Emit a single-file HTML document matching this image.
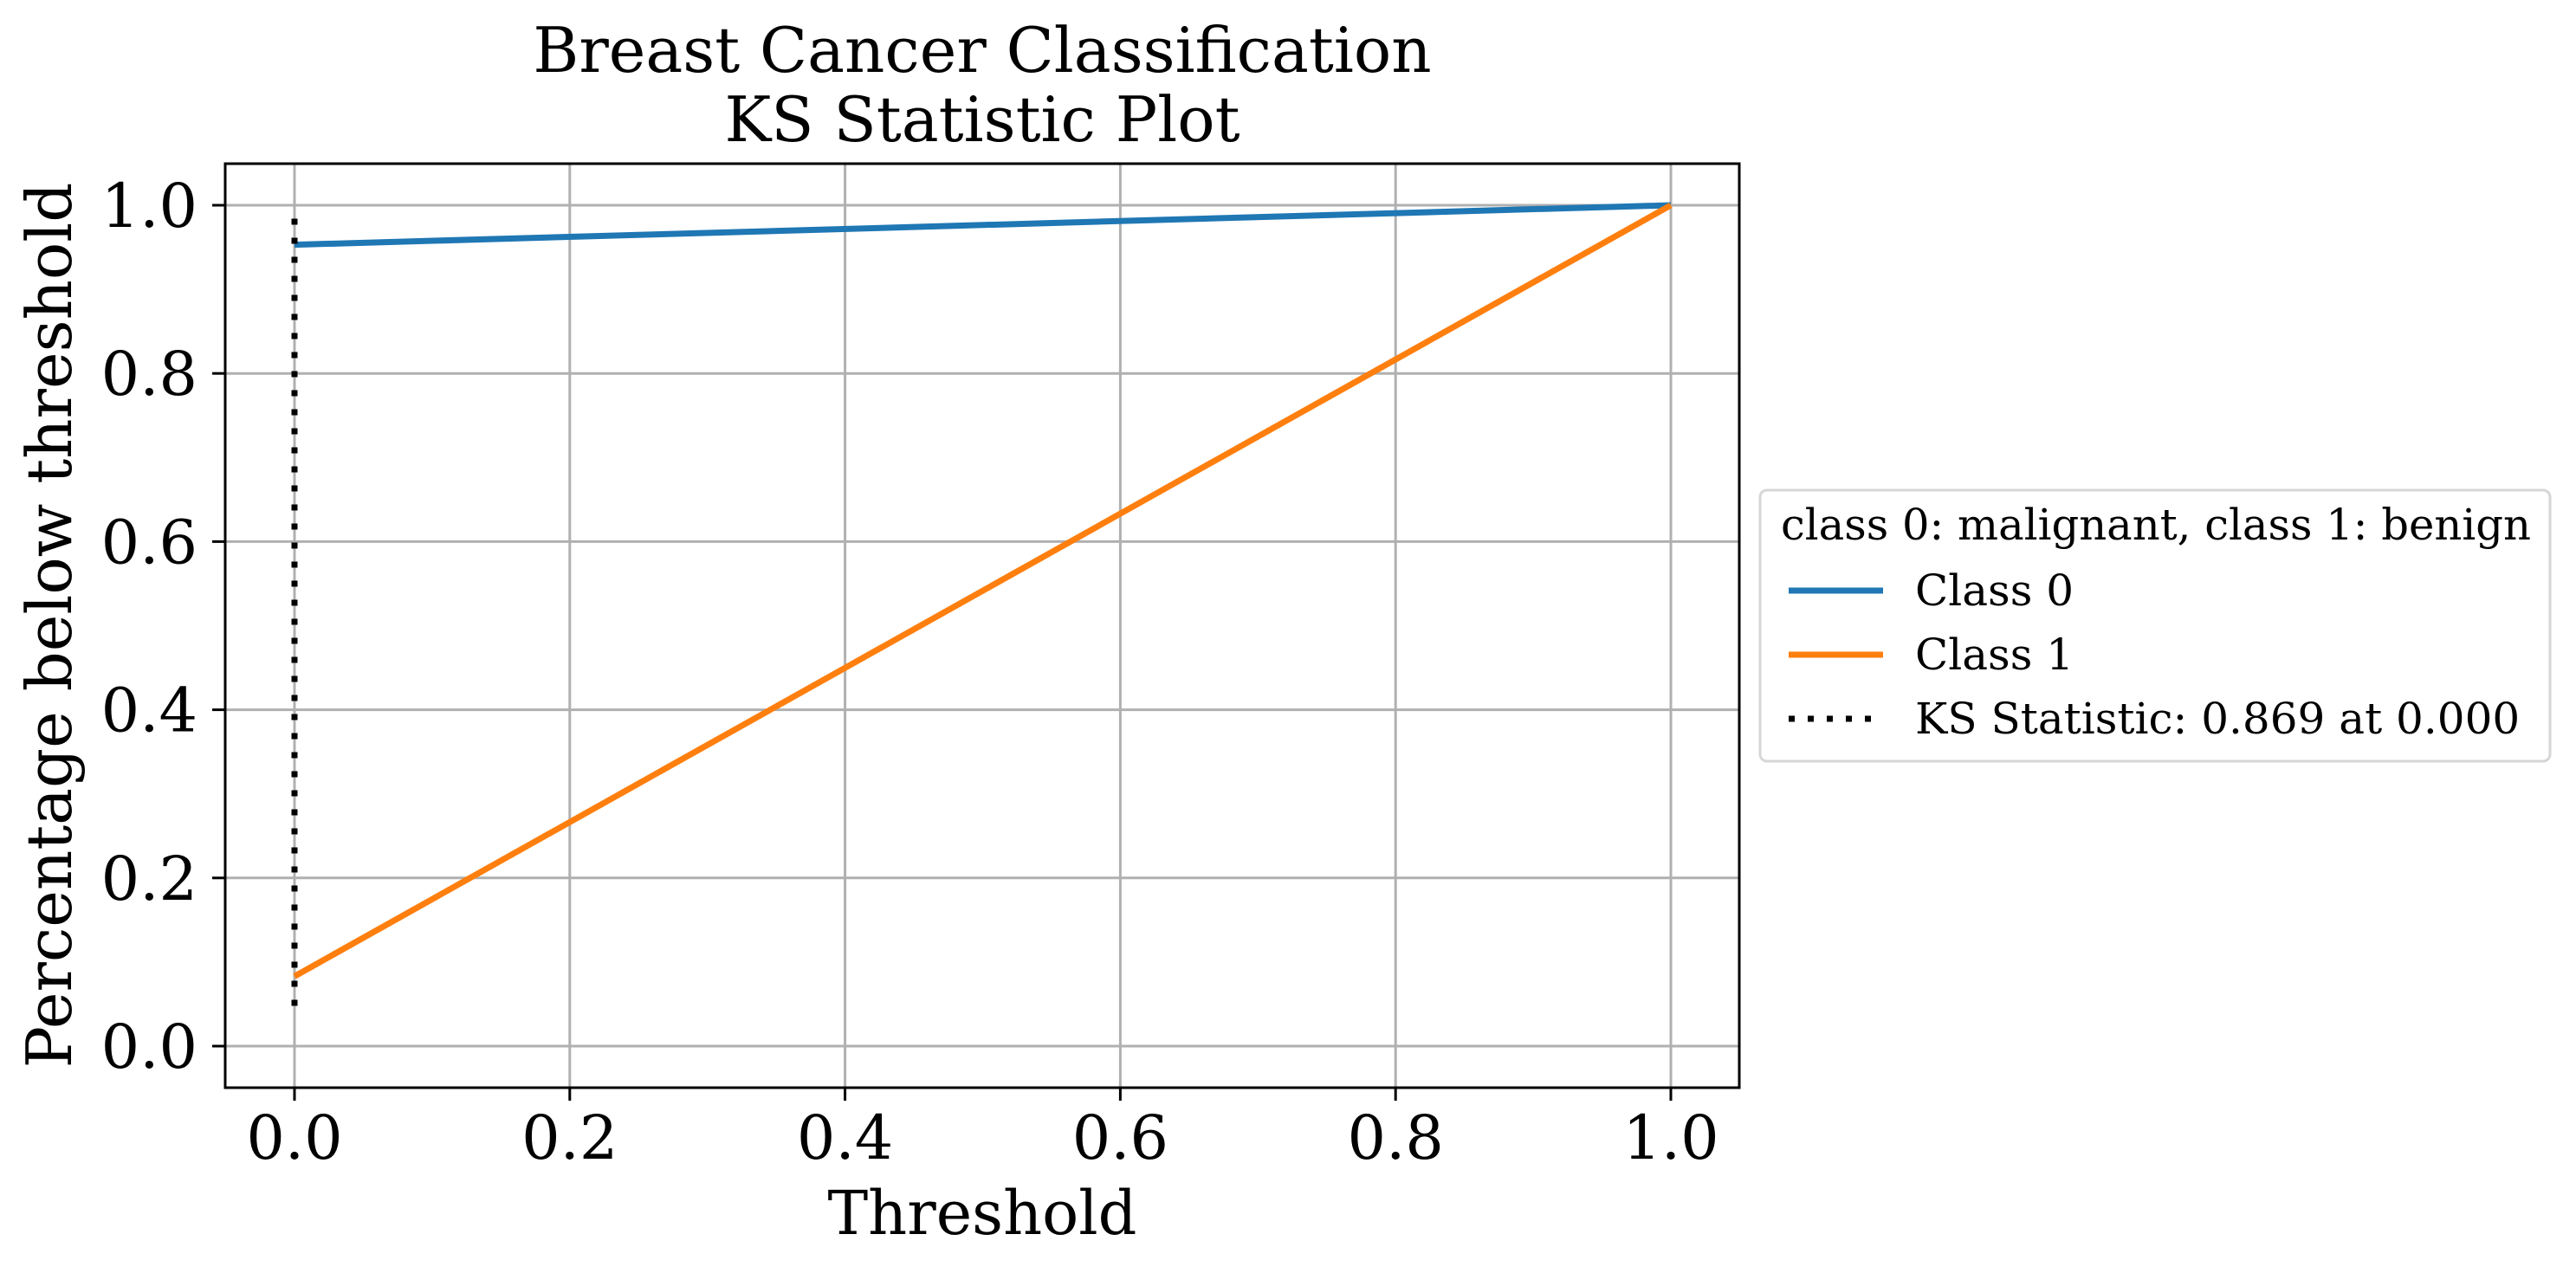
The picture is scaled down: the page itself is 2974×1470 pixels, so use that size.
<!DOCTYPE html>
<html><head><meta charset="utf-8"><style>
html,body{margin:0;padding:0;background:#fff;}
svg{display:block;font-family:"DejaVu Serif","Liberation Serif",serif;}
</style></head><body>
<svg id="chart" width="2974" height="1470" viewBox="0 0 2974 1470" xmlns="http://www.w3.org/2000/svg">
<rect width="2974" height="1470" fill="#fff"/>
<g id="grid"></g>
<g id="series"></g>
<rect x="260" y="189" width="1748" height="1067" fill="none" stroke="#000" stroke-width="3"/>
<g id="ticks"></g>
<text x="1134" y="83" font-size="72" text-anchor="middle">Breast Cancer Classification</text>
<text x="1134" y="163" font-size="72" text-anchor="middle">KS Statistic Plot</text>
<text x="1134" y="1425" font-size="70" text-anchor="middle">Threshold</text>
<text transform="translate(82,722) rotate(-90)" font-size="72" text-anchor="middle">Percentage below threshold</text>
<g>
<rect x="2032" y="566" width="912" height="313" rx="8" fill="#fff" stroke="#d6d6d6" stroke-width="3"/>
<text x="2056" y="623" font-size="50" textLength="866" lengthAdjust="spacingAndGlyphs">class 0: malignant, class 1: benign</text>
<line x1="2065" y1="682" x2="2174" y2="682" stroke="#1f77b4" stroke-width="7"/>
<text x="2211" y="699" font-size="50">Class 0</text>
<line x1="2065" y1="756" x2="2174" y2="756" stroke="#ff7f0e" stroke-width="7"/>
<text x="2211" y="773" font-size="50">Class 1</text>
<line x1="2065" y1="830" x2="2174" y2="830" stroke="#000" stroke-width="7" stroke-dasharray="7 15"/>
<text x="2211" y="847" font-size="50">KS Statistic: 0.869 at 0.000</text>
</g>
</svg>
<script>
const xTicks = [0, 0.2, 0.4, 0.6, 0.8, 1.0];
const yTicks = [0, 0.2, 0.4, 0.6, 0.8, 1.0];
const thresholds = [0, 1];
const class0 = [0.953, 1.0];
const class1 = [0.083, 1.0];
const ksThreshold = 0;
const ksRange = [0.044, 0.984];

const NS = "http://www.w3.org/2000/svg";
function sx(v){ return 340 + v * 1589; }
function sy(v){ return 1208 - v * 971; }
function mk(tag, attrs, parent){
  const e = document.createElementNS(NS, tag);
  for (const k in attrs) e.setAttribute(k, attrs[k]);
  parent.appendChild(e);
  return e;
}
const grid = document.getElementById('grid');
const ticks = document.getElementById('ticks');
const series = document.getElementById('series');

xTicks.forEach(v => {
  const g = mk('line', {x1: sx(v), x2: sx(v), y1: 189, y2: 1256, stroke: '#b0b0b0', 'stroke-width': 3}, grid);
  
  
  const t = mk('line', {x1: sx(v), x2: sx(v), y1: 1256, y2: 1271, stroke: '#000', 'stroke-width': 3}, ticks);
  
  
  const l = mk('text', {x: sx(v), y: 1338, 'font-size': 70, 'text-anchor': 'middle'}, ticks);
  l.textContent = v.toFixed(1);
  
  
});
yTicks.forEach(v => {
  const g = mk('line', {x1: 260, x2: 2008, y1: sy(v), y2: sy(v), stroke: '#b0b0b0', 'stroke-width': 3}, grid);
  
  
  const t = mk('line', {x1: 245, x2: 260, y1: sy(v), y2: sy(v), stroke: '#000', 'stroke-width': 3}, ticks);
  
  
  const l = mk('text', {x: 228, y: sy(v) + 25, 'font-size': 70, 'text-anchor': 'end'}, ticks);
  l.textContent = v.toFixed(1);
  
  
});
function pts(ys){ return thresholds.map((x, i) => sx(x) + ',' + sy(ys[i])).join(' '); }
const l0 = mk('polyline', {points: pts(class0), fill: 'none', stroke: '#1f77b4', 'stroke-width': 7}, series);


const l1 = mk('polyline', {points: pts(class1), fill: 'none', stroke: '#ff7f0e', 'stroke-width': 7}, series);


const ks = mk('line', {x1: sx(ksThreshold), x2: sx(ksThreshold), y1: sy(ksRange[1]), y2: sy(ksRange[0]), stroke: '#000', 'stroke-width': 7, 'stroke-dasharray': '7 15'}, series);


</script>
</body></html>
